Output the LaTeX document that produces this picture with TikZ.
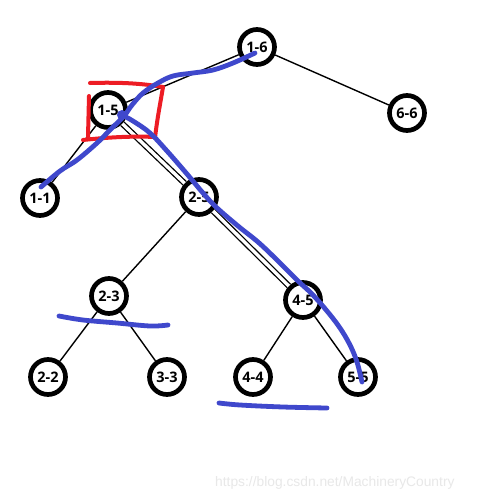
\documentclass[tikz,border=0pt]{standalone}
\usepackage{fontspec}
\setmainfont{Open Sans}
\newfontfamily\wmfont{Liberation Sans}
\definecolor{penblue}{HTML}{3F48CC}
\definecolor{penred}{HTML}{ED1C24}
\begin{document}
\begin{tikzpicture}[x=1pt,y=-1pt,
  tn/.style={circle,draw=black,fill=white,line width=4.7pt,minimum size=35pt,inner sep=0pt,
    font=\fontsize{14.5}{15}\selectfont\bfseries},
  edge/.style={line width=1.4pt},
  dedge/.style={double,double distance=3.4pt,line width=1.3pt},
  bluepen/.style={penblue,line width=4.8pt,line cap=round,line join=round},
  redpen/.style={penred,line width=4pt,line cap=round,line join=round}]
\fill[white] (0,0) rectangle (499,499);
\useasboundingbox (0,0) rectangle (499,499);
% nodes
\node[tn] (n16) at (257,47) {1-6};
\node[tn] (n15) at (108,110) {1-5};
\node[tn] (n66) at (407,113) {6-6};
\node[tn] (n11) at (40,198) {1-1};
\node[tn] (n25) at (199,197) {2-5};
\node[tn] (n23) at (109,296) {2-3};
\node[tn] (n45) at (303,300) {4-5};
\node[tn] (n22) at (48,377) {2-2};
\node[tn] (n33) at (167,377) {3-3};
\node[tn] (n44) at (253,377) {4-4};
\node[tn] (n55) at (358,377) {5-5};
% edges
\draw[edge] (n16) -- (n15);
\draw[edge] (n16) -- (n66);
\draw[edge] (n15) -- (n11);
\draw[dedge] (n15) -- (n25);
\draw[edge] (n25) -- (n23);
\draw[dedge] (n25) -- (n45);
\draw[edge] (n23) -- (n22);
\draw[edge] (n23) -- (n33);
\draw[edge] (n45) -- (n44);
\draw[edge] (n45) -- (n55);
% red box
\draw[redpen] (90,83) .. controls (125,82) and (145,84) .. (163,87);
\draw[redpen] (163,87) .. controls (160,105) and (157,120) .. (155,138);
\draw[redpen] (83,140) .. controls (110,137) and (135,136) .. (155,137);
\draw[redpen] (89,96) -- (88,137);
% blue strokes
\draw[bluepen] plot[smooth,tension=0.6] coordinates {(255,53) (233,63) (213,70) (193,73) (173,76) (158,83) (143,93) (132,105) (124,116) (110,130) (97,143) (77,160) (60,171) (41,187)};
\fill[penblue] (122,115) circle (5pt);
\draw[bluepen] plot[smooth,tension=0.6] coordinates {(122,115) (133,121) (150,133) (167,151) (187,174) (203,193) (216,207) (238,226) (258,242) (277,260) (297,280) (312,294) (327,311) (340,328) (350,345) (357,362) (362,382)};
\draw[bluepen] plot[smooth,tension=0.6] coordinates {(59,316) (83,320) (117,323) (150,326) (168,325)};
\draw[bluepen] plot[smooth,tension=0.6] coordinates {(219,403) (240,405) (283,407) (327,408)};
% watermark
\node[anchor=base west,inner sep=0pt,text=black!9,font=\wmfont\fontsize{13.8}{14}\selectfont] (wm) at (215,486) {https://blog.csdn.net/MachineryCountry};
\end{tikzpicture}
\end{document}
